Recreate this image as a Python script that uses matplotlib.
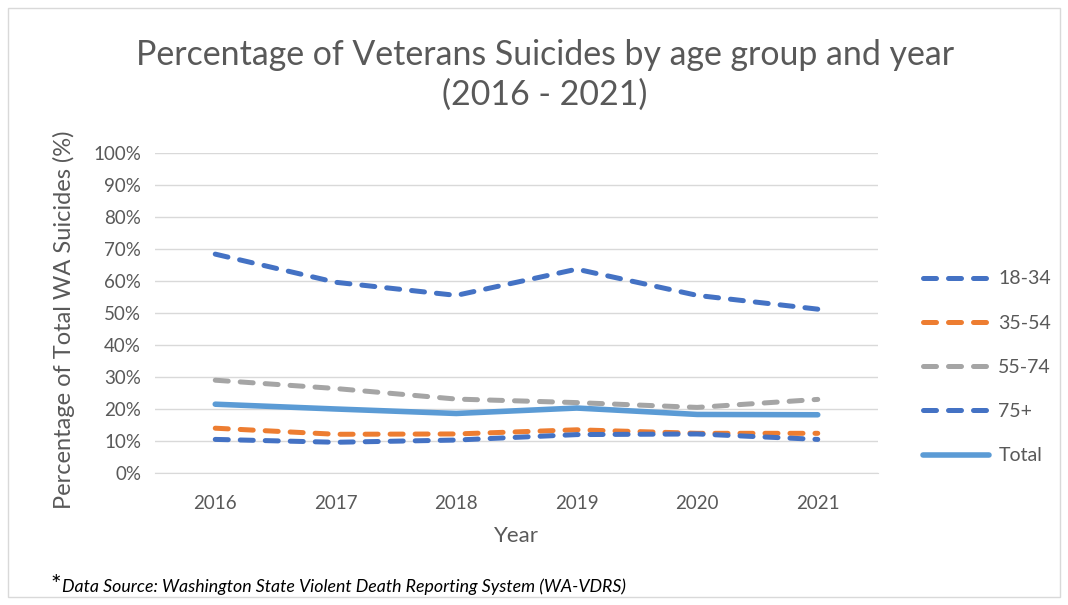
import matplotlib
matplotlib.use("Agg")
import matplotlib.pyplot as plt
from matplotlib.patches import Rectangle
from matplotlib.ticker import PercentFormatter

plt.rcParams['font.family'] = ['Lato', 'DejaVu Sans']

years = ["2016", "2017", "2018", "2019", "2020", "2021"]
age_18_34 = [68.4, 59.6, 55.5, 63.7, 55.5, 51.2]
age_35_54 = [14.0, 12.1, 12.2, 13.5, 12.4, 12.4]
age_55_74 = [29.0, 26.4, 23.1, 22.0, 20.5, 23.0]
age_75_plus = [10.5, 9.6, 10.3, 12.0, 12.2, 10.5]
total = [21.5, 20.0, 18.6, 20.3, 18.3, 18.2]

grey_text = "#595959"

fig = plt.figure(figsize=(10.68, 6.05), dpi=100)
fig.patches.append(Rectangle((8 / 1068, 8 / 605), 1052 / 1068, 589 / 605,
                             transform=fig.transFigure, fill=False,
                             edgecolor="#d9d9d9", linewidth=1))

ax = fig.add_axes([155 / 1068, 1 - 473 / 605, 723 / 1068, 320 / 605])
x = range(len(years))

dash = (0, (2.6, 2.4))
ax.plot(x, age_18_34, color="#4472C4", lw=3.6, linestyle=dash,
        dash_capstyle="round", label="18-34")
ax.plot(x, age_35_54, color="#ED7D31", lw=3.6, linestyle=dash,
        dash_capstyle="round", label="35-54")
ax.plot(x, age_55_74, color="#A5A5A5", lw=3.6, linestyle=dash,
        dash_capstyle="round", label="55-74")
ax.plot(x, age_75_plus, color="#4472C4", lw=3.6, linestyle=dash,
        dash_capstyle="round", label="75+")
ax.plot(x, total, color="#5B9BD5", lw=4, solid_capstyle="round", label="Total")

ax.set_xlim(-0.5, len(years) - 0.5)
ax.set_ylim(0, 100)
ax.set_yticks(range(0, 101, 10))
ax.yaxis.set_major_formatter(PercentFormatter(decimals=0))
ax.set_xticks(list(x))
ax.set_xticklabels(years)
ax.grid(axis="y", color="#d9d9d9", linewidth=1)
ax.set_axisbelow(True)
for side in ["top", "right", "left"]:
    ax.spines[side].set_visible(False)
ax.spines["bottom"].set_color("#d9d9d9")
ax.tick_params(length=0, labelsize=13.5, colors=grey_text, pad=10)
ax.tick_params(axis="x", pad=16)

ax.set_xlabel("Year", fontsize=16, color=grey_text, labelpad=10)
ax.set_ylabel("Percentage of Total WA Suicides (%)", fontsize=17,
              color=grey_text)
ax.yaxis.set_label_coords(-0.11, 0.48)

fig.text(545 / 1068, 1 - 75 / 605,
         "Percentage of Veterans Suicides by age group and year\n(2016 - 2021)",
         ha="center", va="center", fontsize=24.4, color=grey_text,
         linespacing=1.3)

fig.legend(loc="upper left", bbox_to_anchor=(905 / 1068, 1 - 253 / 605),
           frameon=False, fontsize=14, labelcolor=grey_text,
           handlelength=3.4, labelspacing=1.4, handletextpad=0.5)

fig.text(50 / 1068, 1 - 585 / 605, "*", fontsize=18, color="black",
         va="center")
fig.text(62 / 1068, 1 - 587 / 605,
         "Data Source: Washington State Violent Death Reporting System (WA-VDRS)",
         fontsize=12.8, style="italic", color="black", va="center")

fig.savefig("out.png", dpi=100)
